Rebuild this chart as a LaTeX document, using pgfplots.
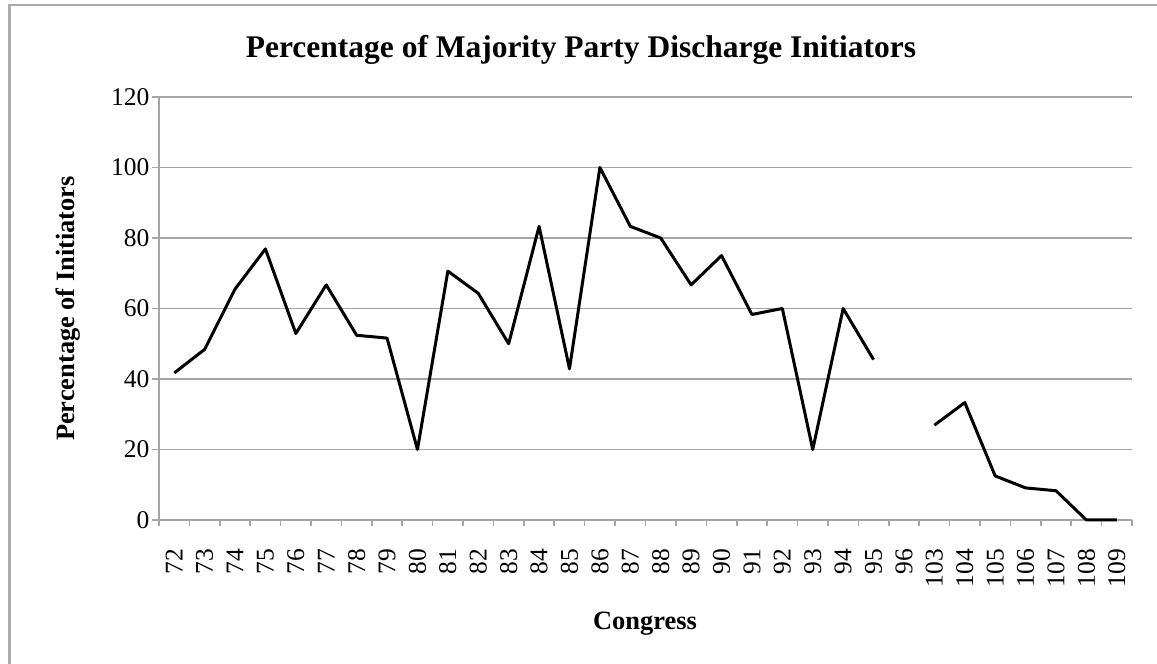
\documentclass[border=0pt]{standalone}
\usepackage{fontspec}
\setmainfont{Liberation Serif}
\usepackage{pgfplots}
\pgfplotsset{compat=1.18}
\definecolor{gridgray}{HTML}{A6A6A6}
\definecolor{framegray}{HTML}{ABABAB}
\begin{document}
\begin{tikzpicture}[x=1bp,y=1bp]
\useasboundingbox (0,0) rectangle (1157,664);
\begin{scope}
\clip (0,0) rectangle (1157,664);
\draw[framegray, line width=2.4bp] (9.3,-20) -- (9.3,659) -- (1180,659);
\end{scope}
\begin{axis}[
  at={(159bp,144bp)}, anchor=south west,
  scale only axis, width=973bp, height=423bp,
  xmin=-0.5, xmax=31.5, ymin=0, ymax=120,
  axis x line=bottom, axis y line=left,
  axis line style={-, draw=gridgray, line width=1.6bp},
  ytick={0,20,...,120},
  ymajorgrids, major grid style={draw=gridgray, line width=1.6bp},
  xtick={0,...,31},
  xticklabels={72,73,74,75,76,77,78,79,80,81,82,83,84,85,86,87,88,89,90,91,92,93,94,95,96,103,104,105,106,107,108,109},
  minor xtick={-0.5,0.5,...,31.5},
  major x tick style={draw=none},
  minor x tick style={draw=gridgray, line width=1.6bp},
  y tick style={draw=gridgray, line width=1.6bp},
  tick align=outside,
  major tick length=7bp, minor tick length=6bp,
  /pgf/number format/assume math mode=true,
  tick label style={font=\fontsize{25.5bp}{29bp}\selectfont},
  xticklabel style={rotate=90, anchor=east, inner sep=0pt},
  yticklabel style={anchor=east, inner sep=0pt},
  xticklabel shift=22bp,
  yticklabel shift=2.5bp,
  unbounded coords=jump,
  clip=false,
]
\addplot[black, line width=3bp, line join=round, mark=none] coordinates {
(0,41.7) (1,48.4) (2,65.5) (3,76.9) (4,52.9) (5,66.7) (6,52.4) (7,51.6)
(8,20) (9,70.6) (10,64.3) (11,50) (12,83.3) (13,42.9) (14,100) (15,83.3)
(16,80) (17,66.7) (18,75) (19,58.3) (20,60) (21,20) (22,60) (23,45.5)
(24,nan) (25,26.9) (26,33.3) (27,12.5) (28,9.1) (29,8.3) (30,0) (31,0)
};
\end{axis}
\node[font=\bfseries\fontsize{31.5bp}{36bp}\selectfont, anchor=base] at (581,606) {Percentage of Majority Party Discharge Initiators};
\node[font=\bfseries\fontsize{26.4bp}{30bp}\selectfont, anchor=base] at (645,34) {Congress};
\node[font=\bfseries\fontsize{26.4bp}{30bp}\selectfont, anchor=base, rotate=90] at (74,355.5) {Percentage of Initiators};
\end{tikzpicture}
\end{document}
